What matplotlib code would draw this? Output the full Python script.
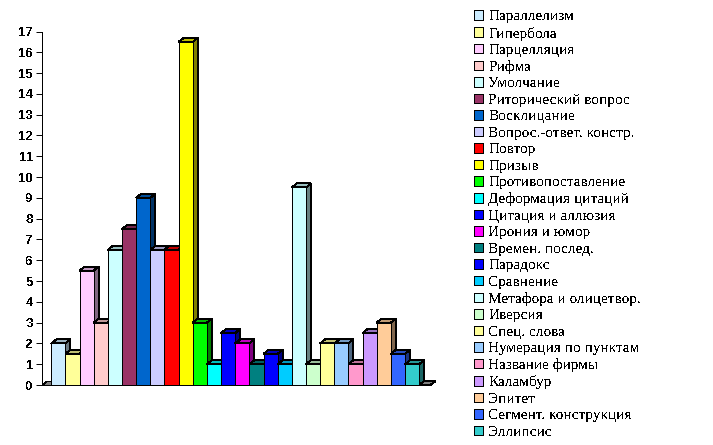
#!/usr/bin/env python3
import matplotlib
matplotlib.use('Agg')
import matplotlib.pyplot as plt
from matplotlib.colors import to_rgb
from matplotlib.patches import Patch

labels = ['Параллелизм', 'Гипербола', 'Парцелляция', 'Рифма', 'Умолчание',
          'Риторический вопрос', 'Восклицание', 'Вопрос.-ответ. констр.',
          'Повтор', 'Призыв', 'Противопоставление', 'Деформация цитаций',
          'Цитация и аллюзия', 'Ирония и юмор', 'Времен. послед.', 'Парадокс',
          'Сравнение', 'Метафора и олицетвор.', 'Иверсия', 'Спец. слова',
          'Нумерация по пунктам', 'Название фирмы', 'Каламбур', 'Эпитет',
          'Сегмент. конструкция', 'Эллипсис']
values = [2, 1.5, 5.5, 3, 6.5, 7.5, 9, 6.5, 6.5, 16.5, 3, 1, 2.5,
          2, 1, 1.5, 1, 9.5, 1, 2, 2, 1, 2.5, 3, 1.5, 1]
colors = ['#CCECFF', '#FFFF99', '#FFCCFF', '#FFCCCC', '#CCFFFF', '#993366',
          '#0066CC', '#CCCCFF', '#FF0000', '#FFFF00', '#00FF00', '#00FFFF',
          '#0000FF', '#FF00FF', '#008080', '#0000FF', '#00CCFF', '#CCFFFF',
          '#CCFFCC', '#FFFF99', '#99CCFF', '#FF99CC', '#CC99FF', '#FFCC99',
          '#3366FF', '#33CCCC']
y_ticks = list(range(0, 18))

# the original is a bitmap without smoothing
plt.rcParams['text.antialiased'] = False
plt.rcParams['patch.antialiased'] = False
plt.rcParams['lines.antialiased'] = False

W, H = 713, 445
SLOT = 14.15
X0, X1 = 41.5, 440
Y0, Y1 = 385, 31.5
DX = 5 / SLOT
DY = 4 / ((Y0 - Y1) / 17)
LW = 0.7


def shade(color, k):
    return tuple(c * k for c in to_rgb(color))


def bar3d(ax, i, v, color, z):
    ax.bar(i, v, width=1, align='edge', color=color, edgecolor='black',
           linewidth=LW, zorder=z + 0.2)
    ax.fill([i + 1, i + 1 + DX, i + 1 + DX, i + 1], [0, DY, v + DY, v],
            facecolor=shade(color, 0.5), edgecolor='black', linewidth=LW, zorder=z)
    ax.fill([i, i + DX, i + 1 + DX, i + 1], [v, v + DY, v + DY, v],
            facecolor=shade(color, 0.75), edgecolor='black', linewidth=LW, zorder=z + 0.1)


fig = plt.figure(figsize=(W / 100, H / 100), dpi=100)
ax = fig.add_axes([X0 / W, 1 - Y0 / H, (X1 - X0) / W, (Y0 - Y1) / H])

# floor stubs on both ends of the row
n = len(values)
ax.fill([-0.69, 0, 0, -0.4], [0, 0, DY, DY], facecolor='#808080',
        edgecolor='black', linewidth=LW, zorder=0)
ax.fill([n, n + 0.8, n + 1.15, n + 0.35], [0, 0, DY, DY], facecolor='#808080',
        edgecolor='black', linewidth=LW, zorder=0)

for i, (v, c) in enumerate(zip(values, colors)):
    bar3d(ax, i, v, c, i + 1)

ax.set_xlim(-0.69, (X1 - 51.3) / SLOT)
ax.set_ylim(0, 17)
ax.set_xticks([])
ax.set_yticks(y_ticks)
ax.tick_params(axis='y', length=4.5, width=LW, pad=1.5)
for t in ax.get_yticklabels():
    t.set_fontfamily('Liberation Sans')
    t.set_fontweight('bold')
    t.set_fontsize(9.5)
for s in ('top', 'right', 'left', 'bottom'):
    ax.spines[s].set_linewidth(LW)
for s in ('top', 'right'):
    ax.spines[s].set_visible(False)
ax.spines['bottom'].set_bounds(-0.69, n + 0.8)
ax.patch.set_visible(False)

handles = [Patch(facecolor=c, edgecolor='black', linewidth=LW) for c in colors]
fig.legend(handles, labels, loc='upper left', bbox_to_anchor=(474 / W, 1 - 10 / H),
           bbox_transform=fig.transFigure, frameon=False, ncol=1,
           prop={'family': 'Liberation Serif', 'size': 11},
           handlelength=0.58, handleheight=0.58, handletextpad=0.36,
           labelspacing=0.22, borderaxespad=0, borderpad=0)

fig.savefig('out.png', dpi=100)
